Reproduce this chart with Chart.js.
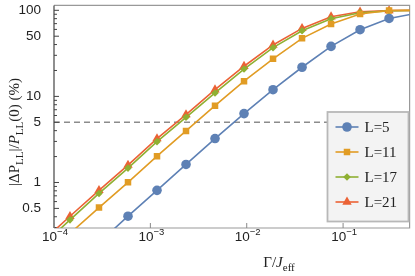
<!DOCTYPE html>
<html>
<head>
<meta charset="utf-8">
<script src="https://cdn.jsdelivr.net/npm/chart.js@4"></script>
<style>
  html, body { margin: 0; padding: 0; background: #fff; }
  #wrap { width: 415px; height: 276px; }
</style>
</head>
<body>
<div id="wrap"><canvas id="chart"></canvas></div>
<script>
// Gamma / J_eff values (factor 2 apart)
const gammas = [7.32e-5, 1.465e-4, 2.93e-4, 5.86e-4, 1.172e-3, 2.344e-3, 4.6875e-3, 9.375e-3, 0.01875, 0.0375, 0.075, 0.15, 0.3, 0.6];
// |dP_LL|/P_LL(0) in %
const l5  = [0.05, 0.10, 0.20, 0.406, 0.81, 1.62, 3.24, 6.31, 11.95, 21.8, 38.1, 59.5, 80.4, 93];
const l11 = [0.13, 0.256, 0.511, 1.005, 2.02, 3.97, 7.81, 15.0, 27.3, 47.2, 69.2, 90.4, 99.3, 100];
const l17 = [0.18, 0.368, 0.746, 1.47, 2.98, 5.72, 10.97, 20.8, 36.8, 57.9, 79.8, 93.5, 98.5, 100];
const l21 = [0.20, 0.405, 0.809, 1.59, 3.23, 6.14, 11.95, 22.4, 39.6, 61.6, 84.1, 96.1, 99.3, 100];

const xTicks = [1e-4, 1e-3, 1e-2, 1e-1];
const xExps = ['\u22124', '\u22123', '\u22122', '\u22121'];
const yTicks = [0.5, 1, 5, 10, 50, 100];
const yMinor = [0.3, 0.4, 0.6, 0.7, 0.8, 0.9, 2, 3, 4, 6, 7, 8, 9, 20, 30, 40, 60, 70, 80, 90];
const threshold = 5;

const series = [
  { label: 'L=5',  data: l5,  color: '#5e81b5', style: 'circle',   r: 4.8 },
  { label: 'L=11', data: l11, color: '#e19c24', style: 'rect',     r: 4.6 },
  { label: 'L=17', data: l17, color: '#8fb032', style: 'rectRot',  r: 3.8 },
  { label: 'L=21', data: l21, color: '#eb6235', style: 'triangle', r: 5.4 },
];

const serif = '"Liberation Serif", "DejaVu Serif", serif';
const sans = '"Liberation Sans", Arial, sans-serif';

function drawRuns(ctx, runs, cx, cy, rotate) {
  let w = 0;
  runs.forEach(r => { ctx.font = r.font; r.w = ctx.measureText(r.t).width + (r.gap || 0); w += r.w; });
  ctx.save();
  ctx.translate(cx, cy);
  if (rotate) ctx.rotate(-Math.PI / 2);
  ctx.textBaseline = 'alphabetic';
  ctx.textAlign = 'left';
  ctx.fillStyle = '#222';
  let px = -w / 2;
  runs.forEach(r => { ctx.font = r.font; ctx.fillText(r.t, px, 5 + (r.dy || 0)); px += r.w; });
  ctx.restore();
}

const decor = {
  id: 'decor',
  beforeDatasetsDraw(chart) {
    const { ctx, chartArea: a, scales: { x, y } } = chart;
    ctx.save();
    // dashed 5% line
    const ty = y.getPixelForValue(threshold);
    ctx.strokeStyle = '#8c8c8c';
    ctx.lineWidth = 1.6;
    ctx.setLineDash([6, 4]);
    ctx.beginPath(); ctx.moveTo(a.left, ty); ctx.lineTo(a.right, ty); ctx.stroke();
    ctx.setLineDash([]);
    // frame
    ctx.lineWidth = 1.2;
    ctx.strokeStyle = '#999';
    ctx.beginPath();
    ctx.moveTo(a.left, a.top); ctx.lineTo(a.right, a.top); ctx.lineTo(a.right, a.bottom); ctx.lineTo(a.left, a.bottom);
    ctx.stroke();
    ctx.strokeStyle = '#444';
    ctx.beginPath(); ctx.moveTo(a.left, a.top); ctx.lineTo(a.left, a.bottom); ctx.stroke();
    // ticks inside
    ctx.lineWidth = 1;
    ctx.beginPath();
    yTicks.forEach(v => { const p = y.getPixelForValue(v); ctx.moveTo(a.left, p); ctx.lineTo(a.left + 5, p); });
    yMinor.forEach(v => { const p = y.getPixelForValue(v); ctx.moveTo(a.left, p); ctx.lineTo(a.left + 3, p); });
    ctx.stroke();
    ctx.strokeStyle = '#888';
    ctx.beginPath();
    xTicks.forEach(v => { const p = x.getPixelForValue(v); ctx.moveTo(p, a.bottom); ctx.lineTo(p, a.bottom - 5); });
    ctx.stroke();
    ctx.restore();
  },
  afterDraw(chart) {
    const { ctx, chartArea: a, scales: { x } } = chart;
    ctx.save();
    // x tick labels 10^n
    xTicks.forEach((v, i) => {
      const p = x.getPixelForValue(v);
      drawRuns(ctx, [
        { t: '10', font: '13.5px ' + sans },
        { t: xExps[i], font: '9.5px ' + sans, dy: -6 },
      ], p + 1, a.bottom + 8, false);
    });
    // axis titles
    drawRuns(ctx, [
      { t: '\u0393/', font: '15px ' + serif },
      { t: 'J', font: 'italic 15px ' + serif },
      { t: 'eff', font: '11px ' + serif, dy: 4 },
    ], 279, 262, false);
    drawRuns(ctx, [
      { t: '|\u0394P', font: '15px ' + serif },
      { t: 'LL', font: '11px ' + serif, dy: 4 },
      { t: '|/', font: '15px ' + serif },
      { t: 'P', font: 'italic 15px ' + serif },
      { t: 'LL', font: '11px ' + serif, dy: 4 },
      { t: '(0) (%)', font: '15px ' + serif },
    ], 14, 132, true);
    // legend box
    const bx = 327.5, by = 112, bw = 81, bh = 109.5;
    ctx.fillStyle = '#f3f3f3';
    ctx.strokeStyle = '#b8b8b8';
    ctx.lineWidth = 1.8;
    ctx.fillRect(bx, by, bw, bh);
    ctx.strokeRect(bx, by, bw, bh);
    chart.data.datasets.forEach((ds, i) => {
      const cy = by + 15 + i * 25;
      ctx.strokeStyle = ds.borderColor;
      ctx.lineWidth = 1.6;
      ctx.beginPath(); ctx.moveTo(bx + 8, cy); ctx.lineTo(bx + 31, cy); ctx.stroke();
      ctx.fillStyle = ds.pointBackgroundColor;
      Chart.helpers.drawPoint(ctx, { pointStyle: ds.pointStyle, radius: ds.pointRadius, borderWidth: 0, rotation: 0 }, bx + 19.5, cy);
      ctx.fillStyle = '#222';
      ctx.font = '15px ' + serif;
      ctx.textBaseline = 'middle';
      ctx.textAlign = 'left';
      ctx.fillText(ds.label, bx + 37, cy + 1);
    });
    ctx.restore();
  }
};

new Chart(document.getElementById('chart'), {
  type: 'line',
  data: {
    datasets: series.map(s => ({
      label: s.label,
      data: gammas.map((g, i) => ({ x: g, y: s.data[i] })),
      borderColor: s.color,
      backgroundColor: s.color,
      pointBackgroundColor: s.color,
      pointBorderWidth: 0,
      pointStyle: s.style,
      pointRadius: s.r,
      pointHoverRadius: s.r,
      borderWidth: 1.6,
      tension: 0,
    })),
  },
  options: {
    responsive: true,
    maintainAspectRatio: false,
    animation: false,
    layout: { padding: { top: 5, right: 3, left: 0, bottom: 0 } },
    plugins: { legend: { display: false }, tooltip: { enabled: false } },
    scales: {
      x: {
        type: 'logarithmic',
        min: 1e-4,
        max: 0.49,
        grid: { display: false },
        border: { display: false },
        ticks: { display: false },
        afterBuildTicks: sc => { sc.ticks = xTicks.map(v => ({ value: v })); },
        afterFit: sc => { sc.height = 48; sc.paddingLeft = 0; sc.paddingRight = 0; },
      },
      y: {
        type: 'logarithmic',
        min: 0.296,
        max: 114,
        grid: { display: false },
        border: { display: false },
        ticks: {
          padding: 5,
          color: '#222',
          font: { family: sans, size: 13.5 },
          callback: v => String(v),
        },
        afterBuildTicks: sc => { sc.ticks = yTicks.map(v => ({ value: v })); },
        afterFit: sc => { sc.width = 54; sc.paddingTop = 0; sc.paddingBottom = 0; },
      },
    },
  },
  plugins: [decor],
});
</script>
</body>
</html>
